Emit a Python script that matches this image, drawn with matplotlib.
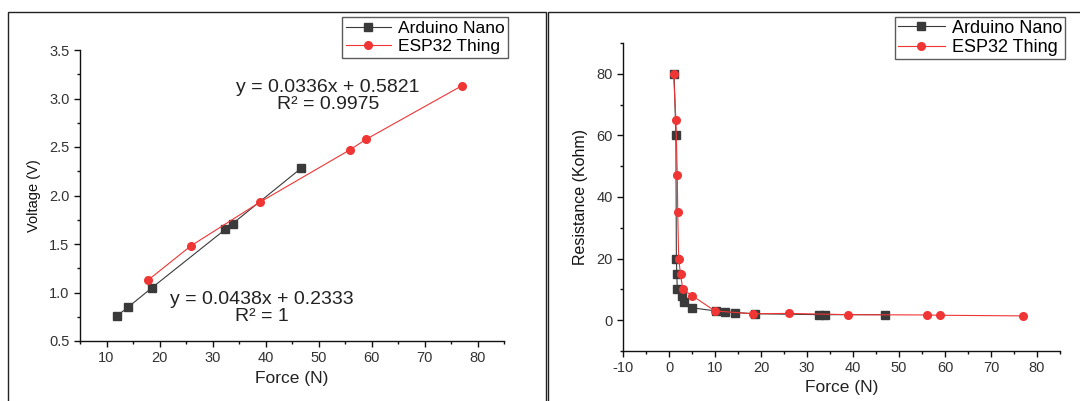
import numpy as np
import matplotlib
matplotlib.use("Agg")
import matplotlib.pyplot as plt
from matplotlib.patches import Rectangle

plt.rcParams['font.family'] = ['Liberation Sans', 'DejaVu Sans']
plt.rcParams['axes.unicode_minus'] = False

# Voltage vs force
nano_force = [12.0, 14.1, 18.6, 32.4, 33.8, 46.7]
nano_volt = [0.76, 0.85, 1.05, 1.65, 1.71, 2.28]
esp_force = [17.9, 25.9, 38.9, 55.9, 59.0, 77.0]
esp_volt = [1.13, 1.48, 1.93, 2.47, 2.58, 3.13]

# Resistance vs force
nano_rforce = [1.1, 1.5, 1.6, 1.7, 1.8, 2.8, 3.2, 5.1, 10.2, 12.2, 14.3, 18.6, 32.5, 33.9, 46.9]
nano_res = [80, 60, 20, 15, 10, 8.0, 6.0, 4.0, 3.0, 2.7, 2.5, 2.1, 1.8, 1.8, 1.8]
esp_rforce = [1.0, 1.5, 1.8, 1.9, 2.1, 2.5, 3.0, 5.0, 10.0, 18.2, 26.0, 39.0, 56.0, 59.0, 77.0]
esp_res = [80, 65, 47, 35, 20, 15, 10, 8.0, 3.0, 2.1, 2.2, 1.8, 1.7, 1.6, 1.4]

nano_color = '#3a3a3a'
esp_color = '#f03535'

fig = plt.figure(figsize=(10.80, 4.01), dpi=100)

# panel frames
fig.patches.append(Rectangle((8/1080, -0.05), 538/1080, 1 - 12/401 + 0.05,
                             transform=fig.transFigure, fill=False, ec='#222222', lw=1.0))
fig.patches.append(Rectangle((548/1080, -0.05), 540/1080, 1 - 12/401 + 0.05,
                             transform=fig.transFigure, fill=False, ec='#222222', lw=1.0))

ax1 = fig.add_axes([80/1080, 1 - 341/401, 424/1080, 291/401])
ax2 = fig.add_axes([623/1080, 1 - 351/401, 437/1080, 308/401])


def style(ax, fs):
    ax.spines['top'].set_visible(False)
    ax.spines['right'].set_visible(False)
    for s in ['left', 'bottom']:
        ax.spines[s].set_linewidth(1.0)
        ax.spines[s].set_color('#111111')
    ax.tick_params(which='major', direction='out', length=4, width=1, labelsize=fs,
                   labelcolor='#333333', color='#111111')
    ax.tick_params(which='minor', direction='out', length=2.5, width=1, color='#111111')


ax1.plot(nano_force, nano_volt, '-s', color=nano_color, lw=0.8, ms=5.5, label='Arduino Nano')
ax1.plot(esp_force, esp_volt, '-o', color=esp_color, lw=0.8, ms=5.5, label='ESP32 Thing')
ax1.set_xlim(5, 85)
ax1.set_ylim(0.5, 3.5)
ax1.set_xticks(np.arange(10, 81, 10))
ax1.set_xticks(np.arange(5, 86, 10), minor=True)
ax1.set_yticks(np.arange(0.5, 3.51, 0.5))
ax1.set_yticks(np.arange(0.75, 3.5, 0.5), minor=True)
ax1.yaxis.set_major_formatter(matplotlib.ticker.FormatStrFormatter('%.1f'))
style(ax1, 10.5)
ax1.set_xlabel('Force (N)', fontsize=12.5, color='#222222', labelpad=4)
ax1.set_ylabel('Voltage (V)', fontsize=10.5, color='#111111', labelpad=6)
ax1.text(51.8, 3.03, 'y = 0.0336x + 0.5821\nR² = 0.9975', ha='center', va='center',
         fontsize=14, color='#222222', linespacing=1.0)
ax1.text(39.3, 0.84, 'y = 0.0438x + 0.2333\nR² = 1', ha='center', va='center',
         fontsize=14, color='#222222', linespacing=1.0)
leg1 = fig.legend(*ax1.get_legend_handles_labels(), loc='upper right',
                  bbox_to_anchor=(508/1080, 1 - 17/401), fontsize=12.5, frameon=True,
                  fancybox=False, borderpad=0.2, labelspacing=0.2, handlelength=2.6,
                  handletextpad=0.4, borderaxespad=0)
leg1.get_frame().set_edgecolor('#333333')
leg1.get_frame().set_linewidth(1.0)

ax2.plot(nano_rforce, nano_res, '-s', color=nano_color, lw=0.8, ms=5.5, label='Arduino Nano')
ax2.plot(esp_rforce, esp_res, '-o', color=esp_color, lw=0.8, ms=5.5, label='ESP32 Thing')
ax2.set_xlim(-10, 85)
ax2.set_ylim(-10, 90)
ax2.set_xticks(np.arange(-10, 81, 10))
ax2.set_xticks(np.arange(-5, 86, 10), minor=True)
ax2.set_yticks(np.arange(0, 81, 20))
ax2.set_yticks(np.arange(-10, 91, 20), minor=True)
style(ax2, 10.5)
ax2.set_xlabel('Force (N)', fontsize=12.5, color='#222222', labelpad=3)
ax2.set_ylabel('Resistance (Kohm)', fontsize=11.5, color='#111111', labelpad=6)
leg2 = fig.legend(*ax2.get_legend_handles_labels(), loc='upper right',
                  bbox_to_anchor=(1065/1080, 1 - 17/401), fontsize=13, frameon=True,
                  fancybox=False, borderpad=0.15, labelspacing=0.15, handlelength=2.6,
                  handletextpad=0.4, borderaxespad=0)
leg2.get_frame().set_edgecolor('#333333')
leg2.get_frame().set_linewidth(1.0)

fig.savefig('out.png', dpi=100)
